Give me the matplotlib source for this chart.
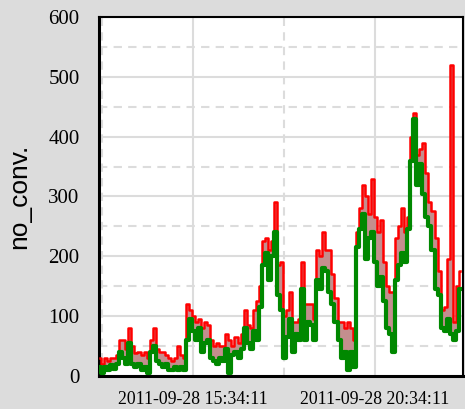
import matplotlib
matplotlib.use("Agg")
import matplotlib.pyplot as plt
import pandas as pd
import numpy as np

start_time = "2011-09-28 13:00:00"
n_points = 120
upper = [30, 20, 30, 25, 30, 30, 35, 60, 60, 45,
         80, 50, 38, 40, 35, 40, 30, 60, 80, 45,
         40, 40, 35, 30, 25, 30, 50, 35, 30, 120,
         110, 100, 90, 95, 80, 90, 85, 60, 50, 55,
         50, 50, 70, 60, 50, 65, 55, 70, 110, 85,
         80, 110, 125, 150, 225, 230, 210, 225, 290, 185,
         190, 100, 110, 140, 90, 90, 95, 190, 120, 120,
         120, 95, 210, 200, 240, 210, 210, 170, 130, 90,
         90, 80, 90, 80, 60, 240, 280, 320, 300, 270,
         330, 265, 240, 260, 190, 150, 140, 140, 230, 250,
         280, 240, 265, 400, 440, 370, 380, 390, 340, 290,
         275, 230, 175, 110, 115, 195, 520, 90, 150, 175]
lower = [15, 5, 15, 10, 18, 12, 20, 40, 30, 20,
         55, 20, 15, 20, 10, 15, 5, 40, 50, 25,
         20, 15, 20, 10, 10, 15, 10, 15, 10, 60,
         95, 75, 60, 80, 40, 55, 60, 30, 25, 20,
         30, 25, 45, 5, 35, 40, 30, 45, 80, 55,
         45, 75, 60, 115, 185, 205, 160, 200, 240, 135,
         110, 30, 65, 95, 40, 70, 60, 145, 60, 90,
         85, 60, 160, 145, 180, 175, 140, 120, 90, 60,
         30, 40, 10, 40, 15, 215, 245, 270, 195, 230,
         240, 190, 150, 165, 125, 80, 70, 40, 160, 185,
         205, 190, 245, 360, 430, 320, 355, 305, 265, 250,
         210, 145, 135, 80, 75, 95, 70, 60, 75, 145]
y_label = "no_conv."
x_tick_times = ["2011-09-28 15:34:11", "2011-09-28 20:34:11"]
x_minor_times = ["2011-09-28 13:04:11", "2011-09-28 18:04:11"]

times = pd.date_range(start_time, periods=n_points, freq="5min")
up = np.array(upper, dtype=float)
lo = np.array(lower, dtype=float)

bg = "#DCDCDC"
fig = plt.figure(figsize=(4.65, 4.09), dpi=100, facecolor=bg)
ax = fig.add_axes([99/465, 1-376/409, (463-99)/465, (376-17)/409])
ax.set_facecolor("white")

ax.fill_between(times, lo, up, color="#C48E8E", linewidth=0, zorder=2, step="mid")
ax.plot(times, up, color="red", linewidth=1.8, zorder=3, drawstyle="steps-mid")
ax.plot(times, lo, color="#008800", linewidth=3.0, zorder=4, drawstyle="steps-mid")

ax.set_ylim(0, 600)
ax.set_xlim(pd.Timestamp("2011-09-28 12:59:00"), pd.Timestamp("2011-09-28 22:59:30"))
ax.set_yticks([0, 100, 200, 300, 400, 500, 600])
ax.set_yticks([50, 150, 250, 350, 450, 550], minor=True)
ax.set_xticks([pd.Timestamp(t) for t in x_tick_times])
ax.set_xticks([pd.Timestamp(t) for t in x_minor_times], minor=True)
ax.set_xticklabels(x_tick_times)

ax.set_axisbelow(True)
ax.grid(True, which="major", color="#DCDCDC", linewidth=1.5, linestyle="-")
ax.grid(True, which="minor", color="#DCDCDC", linewidth=1.5, linestyle=(0, (4, 3)))

ax.tick_params(axis="both", which="both", length=0)
ax.tick_params(axis="y", pad=14)
ax.tick_params(axis="x", pad=11)
for lab in ax.get_yticklabels():
    lab.set_fontfamily("Liberation Serif")
    lab.set_fontsize(15)
for lab in ax.get_xticklabels():
    lab.set_fontfamily("Liberation Serif")
    lab.set_fontsize(12.8)

ax.set_ylabel(y_label, fontfamily="Liberation Sans", fontsize=19, labelpad=12)

for s in ax.spines.values():
    s.set_color("black")
    s.set_linewidth(1.5)
ax.spines["left"].set_linewidth(2.2)
ax.spines["bottom"].set_linewidth(2.2)

fig.savefig("out.png", dpi=100, facecolor=bg)
